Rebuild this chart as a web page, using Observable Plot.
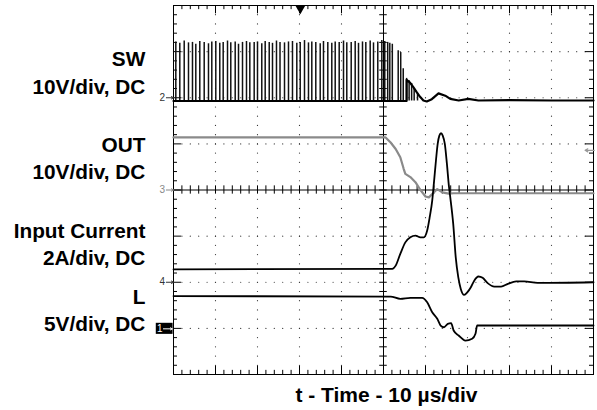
<!DOCTYPE html>
<html><head><meta charset="utf-8">
<script src="https://cdn.jsdelivr.net/npm/d3@7"></script>
<script src="https://cdn.jsdelivr.net/npm/@observablehq/plot@0.6"></script>
<style>
html,body{margin:0;padding:0;background:#fff;}
#chart{width:597px;height:410px;}
</style></head><body><div id="chart"></div>
<script>
// ---- data (time in µs, 10 µs/div; values in channel units) ----
const swPulseT = [0.55, 1.5, 2.55, 3.57, 4.52, 5.31, 6.26, 7.31, 8.33, 9.12,
  10.07, 11.02, 11.83, 12.86, 13.64, 14.69, 15.48, 16.43, 17.38, 18.17,
  19.21, 20.0, 21.02, 21.83, 22.79, 23.57, 24.52, 25.36, 26.43, 27.38,
  28.33, 29.36, 30.17, 31.19, 32.14, 32.93, 33.88, 34.93, 35.71, 36.74,
  37.69, 38.5, 39.45, 40.48, 41.26, 42.31, 43.26, 44.05, 45.0, 45.79,
  46.83, 47.62, 48.64, 49.6, 50.3, 51.0, 51.5, 52.1, 53.5, 54.1,
  54.7, 55.5, 56.1, 56.7, 57.3, 58.1];
const swPulseV = [12.1, 11.8, 12.3, 11.9, 12.0, 11.6, 12.2, 12.0, 11.7, 12.1,
  12.2, 11.8, 12.0, 12.3, 11.9, 12.1, 11.6, 12.0, 12.2, 11.9,
  12.0, 12.1, 11.7, 12.2, 12.0, 11.8, 12.3, 12.0, 11.9, 12.1,
  12.2, 11.8, 12.0, 12.4, 11.9, 12.1, 12.0, 11.7, 12.2, 12.0,
  11.8, 12.1, 12.0, 12.3, 11.9, 12.0, 12.2, 11.8, 12.1, 12.0,
  12.3, 11.9, 12.1, 12.4, 12.2, 12.0, 11.8, 11.6, 10.2, 9.8,
  6.3, 4.2, 3.7, 3.1, 2.0, 0.9];
const swLow = -0.7;
const swTraceT = [0, 55.5, 55.5, 56.3, 57.1, 57.9, 58.7, 59.5, 60.3, 61.5, 63.1, 64.7, 65.9, 67.9, 70.2, 72.6, 80, 90, 100];
const swTraceV = [-0.7, -0.7, 3.9, 3.3, 2.3, 1.2, 0.2, -0.6, -0.8, -0.3, 0.95, 0.45, -0.26, -0.6, -0.26, -0.6, -0.5, -0.6, -0.6];

const outT = [0, 50.5, 51.7, 52.9, 54.0, 54.8, 55.2, 56.4, 57.6, 58.8, 60.0, 60.8, 62.8, 64.0, 65.5, 66.7, 100];
const outV = [11.4, 11.4, 10.3, 8.9, 7.1, 4.6, 3.5, 2.8, 1.7, 0.0, -1.4, -1.6, 0.2, -0.5, -0.8, -0.7, -0.7];

const iinT = [0, 52.1, 52.9, 54.0, 55.2, 56.4, 57.6, 58.8, 59.6, 60.4, 61.0, 61.6, 62.0, 62.5, 62.9, 63.3, 63.7, 64.1, 64.6, 65.1, 65.6, 65.9, 66.6, 67.2, 67.8, 68.4, 69.2, 70.0, 70.8, 71.6, 72.6, 73.6, 74.8, 76.4, 78.0, 79.6, 81.6, 83.5, 86.7, 100];
const iinA = [0.56, 0.58, 0.72, 1.23, 1.73, 1.95, 2.02, 1.95, 1.95, 2.24, 2.82, 3.54, 4.3, 5.3, 6.0, 6.36, 6.46, 6.36, 6.0, 5.13, 4.12, 3.68, 2.53, 1.08, 0.22, -0.29, -0.55, -0.43, -0.22, 0.07, 0.25, 0.19, -0.04, -0.19, -0.19, -0.07, 0.04, 0.04, -0.03, 0.0];

const lT = [0, 51.7, 54.0, 56.4, 59.2, 60.4, 61.6, 62.8, 63.6, 64.4, 65.3, 66.1, 66.7, 67.9, 69.5, 71.1, 71.9, 72.3, 100];
const lV = [3.5, 3.45, 3.2, 3.31, 3.31, 2.83, 1.75, 1.04, 0.31, 0.12, 0.49, 0.56, -0.23, -0.77, -1.32, -1.13, -0.59, 0.31, 0.31];

const channelNames = ["SW", "OUT", "Input Current", "L"];
const channelScales = ["10V/div, DC", "10V/div, DC", "2A/div, DC", "5V/div, DC"];
const channelIds = ["2", "3", "4", "1"];
const xLabel = "t - Time - 10 \u00b5s/div";

// ---- channel -> screen divisions (8 vertical divisions) ----
const toSW = v => 6 + v / 10;
const toOUT = v => 4 + v / 10;
const toIIN = a => 2 + a / 2;
const toL = v => 1 + v / 5;

const pulses = swPulseT.map((t, i) => ({t, lo: toSW(swLow), hi: toSW(swPulseV[i])}));
const swTrace = swTraceT.map((t, i) => ({t, y: toSW(swTraceV[i])}));
const outTrace = outT.map((t, i) => ({t, y: toOUT(outV[i])}));
const iinTrace = iinT.map((t, i) => ({t, y: toIIN(iinA[i])}));
const lTrace = lT.map((t, i) => ({t, y: toL(lV[i])}));

// ---- graticule ----
const majX = d3.range(0, 101, 10), minX = d3.range(0, 100.001, 2);
const majY = d3.range(0, 9, 1), minY = d3.range(0, 8.001, 0.2);
const gridDots = [];
for (const x of majX) if (x !== 0 && x !== 50 && x !== 100) for (const y of minY) gridDots.push({x, y});
for (const y of majY) if (y !== 0 && y !== 4 && y !== 8) for (const x of minX) gridDots.push({x, y});
const isMajX = x => Math.abs(x / 10 - Math.round(x / 10)) < 1e-6;
const isMajY = y => Math.abs(y - Math.round(y)) < 1e-6;

const font = "Liberation Sans, Arial, Helvetica, sans-serif";
const lab = (text, y) => Plot.text([text], {x: -6.7, y, textAnchor: "end", lineAnchor: "bottom", fontSize: 20.8, fontWeight: "bold", fill: "#000"});

const chart = Plot.plot({
  width: 597, height: 410,
  marginLeft: 173, marginRight: 4, marginTop: 5, marginBottom: 36,
  x: {domain: [0, 100], axis: null},
  y: {domain: [0, 8], axis: null},
  style: {fontFamily: font, background: "#fff", overflow: "visible"},
  marks: [
    Plot.dot(gridDots, {x: "x", y: "y", r: 0.6, fill: "#333", stroke: null}),
    Plot.ruleX([50], {stroke: "#000", strokeWidth: 1}),
    Plot.ruleY([4], {stroke: "#000", strokeWidth: 1}),
    Plot.ruleX(minX, {x: d => d, y1: 3.91, y2: 4.09, stroke: "#000"}),
    Plot.ruleY(minY, {y: d => d, x1: 49.1, x2: 50.9, stroke: "#000"}),
    Plot.ruleX(minX, {x: d => d, y1: 0, y2: d => isMajX(d) ? 0.18 : 0.09, stroke: "#000"}),
    Plot.ruleX(minX, {x: d => d, y1: 8, y2: d => isMajX(d) ? 7.82 : 7.91, stroke: "#000"}),
    Plot.ruleY(minY, {y: d => d, x1: 0, x2: d => isMajY(d) ? 1.9 : 0.95, stroke: "#000"}),
    Plot.ruleY(minY, {y: d => d, x1: 100, x2: d => isMajY(d) ? 98.1 : 99.05, stroke: "#000"}),
    Plot.frame({stroke: "#000", strokeWidth: 1}),
    // traces
    Plot.ruleX(pulses, {x: "t", y1: "lo", y2: "hi", stroke: "#111", strokeWidth: 1.5}),
    Plot.line(swTrace, {x: "t", y: "y", stroke: "#000", strokeWidth: 2.2}),
    Plot.line(outTrace, {x: "t", y: "y", stroke: "#8a8a8a", strokeWidth: 2.2}),
    Plot.line(iinTrace, {x: "t", y: "y", stroke: "#000", strokeWidth: 1.8, curve: "monotone-x"}),
    Plot.line(lTrace, {x: "t", y: "y", stroke: "#000", strokeWidth: 1.8, curve: "monotone-x"}),
    // channel ground markers
    Plot.text([channelIds[0]], {x: -2.0, y: 6, textAnchor: "end", fontSize: 10, fill: "#333"}),
    Plot.arrow([0], {x1: -1.7, x2: 0, y1: 6, y2: 6, stroke: "#333", headLength: 4, strokeWidth: 1}),
    Plot.text([channelIds[1]], {x: -2.0, y: 4, textAnchor: "end", fontSize: 10, fill: "#888"}),
    Plot.arrow([0], {x1: -1.7, x2: 0, y1: 4, y2: 4, stroke: "#888", headLength: 4, strokeWidth: 1}),
    Plot.text([channelIds[2]], {x: -2.0, y: 2, textAnchor: "end", fontSize: 10, fill: "#333"}),
    Plot.arrow([0], {x1: -1.7, x2: 0, y1: 2, y2: 2, stroke: "#333", headLength: 4, strokeWidth: 1}),
    Plot.rect([0], {x1: -4.1, x2: -0.1, y1: 0.87, y2: 1.11, fill: "#000"}),
    Plot.text([channelIds[3]], {x: -2.6, y: 0.99, textAnchor: "end", fontSize: 10, fill: "#fff"}),
    Plot.arrow([0], {x1: -2.4, x2: -0.3, y1: 0.99, y2: 0.99, stroke: "#fff", headLength: 3, strokeWidth: 1}),
    // trigger markers
    Plot.dot([0], {x: 30.2, y: 7.93, symbol: "triangle", r: 3.5, rotate: 180, fill: "#000", stroke: null}),
    Plot.arrow([0], {x1: 100.2, x2: 98.0, y1: 4.86, y2: 4.86, stroke: "#999", headLength: 4, strokeWidth: 1.2}),
    // labels
    lab(channelNames[0], 6.68), lab(channelScales[0], 6.08),
    lab(channelNames[1], 4.82), lab(channelScales[1], 4.24),
    lab(channelNames[2], 2.95), lab(channelScales[2], 2.38),
    lab(channelNames[3], 1.53), lab(channelScales[3], 0.95),
    Plot.text([xLabel], {x: 50.7, y: -0.6, textAnchor: "middle", lineAnchor: "bottom", fontSize: 21, fontWeight: "bold", fill: "#000"})
  ]
});
document.getElementById("chart").appendChild(chart);
</script></body></html>
